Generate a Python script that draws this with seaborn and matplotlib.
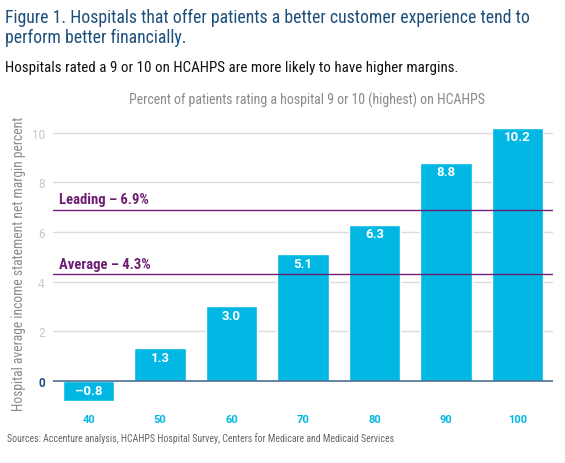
import matplotlib
matplotlib.use("Agg")
import matplotlib.pyplot as plt
import seaborn as sns
import pandas as pd

categories = ["40", "50", "60", "70", "80", "90", "100"]
margins = [-0.8, 1.3, 3.0, 5.1, 6.3, 8.8, 10.2]
value_labels = ["\u20130.8", "1.3", "3.0", "5.1", "6.3", "8.8", "10.2"]
y_ticks = [0, 2, 4, 6, 8, 10]
leading = 6.9
average = 4.3

sns.set_theme(style="white")
FAM = ["Roboto Condensed", "DejaVu Sans"]
NUM = ["Roboto", "DejaVu Sans"]
plt.rcParams["font.family"] = FAM

BAR = "#00b8e3"
PURPLE = "#6e1e73"
NAVY = "#1d4f7c"

df = pd.DataFrame({"score": categories, "margin": margins})

fig = plt.figure(figsize=(5.65, 4.64), dpi=100)
ax = fig.add_axes([0.0938, 0.1293, 0.885, 0.6034])

ax.set_ylim(-0.9, 10.4)
for t in y_ticks[1:]:
    ax.axhline(t, color="#dcdcdc", lw=1.0, zorder=0)

sns.barplot(data=df, x="score", y="margin", color=BAR, saturation=1,
            width=0.72, ax=ax, zorder=2)
ax.set_xlim(-0.5, 6.5)
ax.axhline(0, color="#4d6f91", lw=1.2, zorder=3)

for i, (v, lab) in enumerate(zip(margins, value_labels)):
    if v >= 0:
        ax.text(i, v - 0.36, lab, ha="center", va="center", color="white",
                fontsize=9.5, fontweight="bold", family=NUM, zorder=4)
    else:
        ax.text(i, v / 2, lab, ha="center", va="center", color="white",
                fontsize=9.5, fontweight="bold", family=NUM, zorder=4)

for val, name in [(leading, "Leading"), (average, "Average")]:
    ax.axhline(val, color=PURPLE, lw=1.0, zorder=3)
    ax.text(-0.42, val + 0.14, f"{name} \u2013 {val}%", ha="left", va="bottom",
            color=PURPLE, fontsize=10.5, fontweight="bold", zorder=4)

ax.set_yticks(y_ticks)
ax.set_yticklabels([str(t) for t in y_ticks])
for lab in ax.get_yticklabels():
    if lab.get_text() == "0":
        lab.set_color(NAVY)
        lab.set_fontweight("bold")
    else:
        lab.set_color("#c8c8c8")
    lab.set_fontsize(8.5)
    lab.set_family(NUM)
for lab in ax.get_xticklabels():
    lab.set_color(BAR)
    lab.set_fontweight("bold")
    lab.set_fontsize(8)
    lab.set_family(NUM)
ax.tick_params(axis="x", length=0, pad=8)
ax.tick_params(axis="y", length=0, pad=6)
ax.set_xlabel("")
ax.set_ylabel("Hospital average income statement net margin percent",
              color="#8a8a8a", fontsize=9.8, labelpad=4)
sns.despine(ax=ax, left=True, bottom=True)

fig.text(0.009, 0.940, "Figure 1. Hospitals that offer patients a better customer experience tend to\nperform better financially.",
         ha="left", va="center", color=NAVY, fontsize=12.8, linespacing=1.12)
fig.text(0.009, 0.853, "Hospitals rated a 9 or 10 on HCAHPS are more likely to have higher margins.",
         ha="left", va="center", color="#111111", fontsize=10.8)
fig.text(0.543, 0.783, "Percent of patients rating a hospital 9 or 10 (highest) on HCAHPS",
         ha="center", va="center", color="#8a8a8a", fontsize=10)
fig.text(0.012, 0.054, "Sources: Accenture analysis, HCAHPS Hospital Survey, Centers for Medicare and Medicaid Services",
         ha="left", va="center", color="#666666", fontsize=7.1)

fig.savefig("out.png", dpi=100)
